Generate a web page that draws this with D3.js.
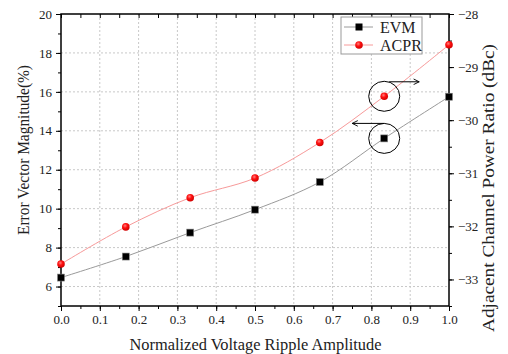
<!DOCTYPE html>
<html>
<head>
<meta charset="utf-8">
<script src="https://cdn.jsdelivr.net/npm/d3@7"></script>
<style>
  body { margin: 0; background: #fff; }
  svg { display: block; }
  svg text { font-family: "Liberation Serif", "Times New Roman", Times, "DejaVu Serif", serif !important; }
</style>
</head>
<body>
<div id="chart"></div>
<script>
const ripple = [0, 0.167, 0.333, 0.5, 0.667, 0.833, 1.0];
const evm = [6.46, 7.54, 8.77, 9.95, 11.37, 13.61, 15.75];
const acpr = [-32.71, -32.01, -31.46, -31.09, -30.42, -29.55, -28.58];
const xTicks = [0, 0.1, 0.2, 0.3, 0.4, 0.5, 0.6, 0.7, 0.8, 0.9, 1.0];
const leftTicks = [6, 8, 10, 12, 14, 16, 18, 20];
const rightTicks = [-33, -32, -31, -30, -29, -28];
const legendNames = ["EVM", "ACPR"];

const width = 508, height = 354;
const plotLeft = 61, plotRight = 449, plotTop = 14, plotBottom = 306;

const svg = d3.select("#chart").append("svg")
  .attr("width", width)
  .attr("height", height);

const x = d3.scaleLinear().domain([0, 1]).range([plotLeft, plotRight]);
const yL = d3.scaleLinear().domain([5, 20]).range([plotBottom, plotTop]);
const yR = d3.scaleLinear().domain([-33.5, -28]).range([plotBottom, plotTop]);

// grid
const grid = svg.append("g")
  .attr("stroke", "#c8c8c8")
  .attr("stroke-width", 1)
  .attr("stroke-dasharray", "2,2");
grid.selectAll(".vg")
  .data(xTicks.filter((d) => d > 0 && d < 1))
  .enter().append("line")
  .attr("x1", (d) => x(d)).attr("x2", (d) => x(d))
  .attr("y1", plotTop).attr("y2", plotBottom);
grid.selectAll(".hg")
  .data(leftTicks.filter((d) => d < 20))
  .enter().append("line")
  .attr("x1", plotLeft).attr("x2", plotRight)
  .attr("y1", (d) => yL(d)).attr("y2", (d) => yL(d));

// axes
const fmt1 = d3.format(".1f");
const xMinor = d3.range(0, 1.0001, 0.05);
const styleText = (g) => g.selectAll("text")
  .attr("font-size", 13).attr("fill", "#222");

svg.append("g")
  .attr("transform", `translate(0,${plotBottom})`)
  .call(d3.axisBottom(x).tickValues(xMinor).tickSize(3).tickFormat(""))
  .call((g) => g.select(".domain").remove());
svg.append("g")
  .attr("transform", `translate(0,${plotBottom})`)
  .call(d3.axisBottom(x).tickValues(xTicks).tickSize(5).tickPadding(4).tickFormat(fmt1))
  .call((g) => g.select(".domain").remove())
  .call(styleText);

svg.append("g")
  .attr("transform", `translate(0,${plotTop})`)
  .call(d3.axisTop(x).tickValues(xMinor).tickSize(-4).tickFormat(""))
  .call((g) => g.select(".domain").remove());

svg.append("g")
  .attr("transform", `translate(${plotLeft},0)`)
  .call(d3.axisLeft(yL).tickValues(d3.range(5, 20.001, 1)).tickSize(3).tickFormat(""))
  .call((g) => g.select(".domain").remove());
svg.append("g")
  .attr("transform", `translate(${plotLeft},0)`)
  .call(d3.axisLeft(yL).tickValues(leftTicks).tickSize(5).tickPadding(4))
  .call((g) => g.select(".domain").remove())
  .call(styleText);

svg.append("g")
  .attr("transform", `translate(${plotRight},0)`)
  .call(d3.axisRight(yR).tickValues(d3.range(-33.5, -27.999, 0.5)).tickSize(3).tickFormat(""))
  .call((g) => g.select(".domain").remove());
svg.append("g")
  .attr("transform", `translate(${plotRight},0)`)
  .call(d3.axisRight(yR).tickValues(rightTicks).tickSize(5).tickPadding(4).tickFormat(d3.format("d")))
  .call((g) => g.select(".domain").remove())
  .call(styleText);

svg.append("rect")
  .attr("x", plotLeft).attr("y", plotTop)
  .attr("width", plotRight - plotLeft).attr("height", plotBottom - plotTop)
  .attr("fill", "none")
  .attr("stroke", "#000")
  .attr("stroke-width", 1.5);

// series lines
const evmLine = d3.line()
  .x((d, i) => x(ripple[i]))
  .y((d) => yL(d))
  .curve(d3.curveCatmullRom);
const acprLine = d3.line()
  .x((d, i) => x(ripple[i]))
  .y((d) => yR(d))
  .curve(d3.curveCatmullRom);

svg.append("path")
  .datum(evm)
  .attr("d", evmLine)
  .attr("fill", "none")
  .attr("stroke", "#9a9a9a")
  .attr("stroke-width", 1);
svg.append("path")
  .datum(acpr)
  .attr("d", acprLine)
  .attr("fill", "none")
  .attr("stroke", "#f79a9a")
  .attr("stroke-width", 1);

const defs = svg.append("defs");
const grad = defs.append("radialGradient")
  .attr("id", "redball")
  .attr("cx", "40%").attr("cy", "35%").attr("r", "65%");
grad.append("stop").attr("offset", "0%").attr("stop-color", "#ff8080");
grad.append("stop").attr("offset", "45%").attr("stop-color", "#ff1010");
grad.append("stop").attr("offset", "100%").attr("stop-color", "#d00000");

svg.selectAll(".sq")
  .data(evm)
  .enter().append("rect")
  .attr("class", "sq")
  .attr("x", (d, i) => x(ripple[i]) - 3.5)
  .attr("y", (d) => yL(d) - 3.5)
  .attr("width", 7).attr("height", 7)
  .attr("fill", "#000")
  .attr("stroke", "#888")
  .attr("stroke-width", 0.6);

svg.selectAll(".dot")
  .data(acpr)
  .enter().append("circle")
  .attr("class", "dot")
  .attr("cx", (d, i) => x(ripple[i]))
  .attr("cy", (d) => yR(d))
  .attr("r", 3.8)
  .attr("fill", "url(#redball)");

// annotations
defs.append("marker")
  .attr("id", "arrow")
  .attr("viewBox", "0 0 10 10")
  .attr("refX", 9).attr("refY", 5)
  .attr("markerWidth", 7).attr("markerHeight", 7)
  .attr("markerUnits", "userSpaceOnUse")
  .attr("orient", "auto")
  .append("path")
  .attr("d", "M1,1 L9,5 L1,9")
  .attr("fill", "none")
  .attr("stroke", "#000")
  .attr("stroke-width", 1.3);

const cxA = x(ripple[5]);
const cyR = yR(acpr[5]);
const cyE = yL(evm[5]);
const ringR = 15;
[cyR, cyE].forEach((cy) => {
  svg.append("ellipse")
    .attr("cx", cxA).attr("cy", cy)
    .attr("rx", ringR + 0.5).attr("ry", ringR)
    .attr("fill", "none")
    .attr("stroke", "#000")
    .attr("stroke-width", 1);
});
svg.append("line")
  .attr("x1", cxA + 5).attr("y1", cyR - ringR + 0.5)
  .attr("x2", cxA + 35).attr("y2", cyR - ringR + 0.5)
  .attr("stroke", "#000").attr("stroke-width", 1)
  .attr("marker-end", "url(#arrow)");
svg.append("line")
  .attr("x1", cxA).attr("y1", cyE - ringR)
  .attr("x2", cxA - 32).attr("y2", cyE - ringR)
  .attr("stroke", "#000").attr("stroke-width", 1)
  .attr("marker-end", "url(#arrow)");

// legend
const legend = svg.append("g").attr("transform", "translate(341,17)");
legend.append("rect")
  .attr("width", 81).attr("height", 37)
  .attr("fill", "#fff")
  .attr("stroke", "#999")
  .attr("stroke-width", 1);
legendNames.forEach((name, i) => {
  const row = legend.append("g").attr("transform", `translate(0,${10 + i * 18})`);
  row.append("line")
    .attr("x1", 3).attr("x2", 32)
    .attr("stroke", i === 0 ? "#9a9a9a" : "#f79a9a")
    .attr("stroke-width", 1);
  if (i === 0) {
    row.append("rect").attr("x", 14.5).attr("y", -3.5).attr("width", 7).attr("height", 7).attr("fill", "#000");
  } else {
    row.append("circle").attr("cx", 18).attr("cy", 0).attr("r", 3.8).attr("fill", "url(#redball)");
  }
  row.append("text")
    .attr("x", 39).attr("y", 5.5)
    .attr("font-size", 16)
    .attr("fill", "#222")
    .text(name);
});

// axis titles
svg.append("text")
  .attr("x", 255.5).attr("y", 350)
  .attr("text-anchor", "middle")
  .attr("font-size", 17)
  .attr("textLength", 252)
  .attr("lengthAdjust", "spacingAndGlyphs")
  .attr("fill", "#222")
  .text("Normalized Voltage Ripple Amplitude");
svg.append("text")
  .attr("transform", "translate(29,150) rotate(-90)")
  .attr("text-anchor", "middle")
  .attr("font-size", 16)
  .attr("textLength", 170)
  .attr("lengthAdjust", "spacingAndGlyphs")
  .attr("fill", "#222")
  .text("Error Vector Magnitude(%)");
svg.append("text")
  .attr("transform", "translate(494,188) rotate(-90)")
  .attr("text-anchor", "middle")
  .attr("font-size", 17)
  .attr("textLength", 288)
  .attr("lengthAdjust", "spacingAndGlyphs")
  .attr("fill", "#222")
  .text("Adjacent Channel Power Ratio (dBc)");
</script>
</body>
</html>
